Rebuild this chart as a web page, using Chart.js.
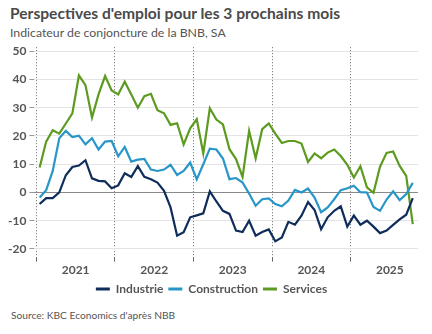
<!DOCTYPE html>
<html lang="fr">
<head>
  <meta charset="UTF-8">
  <title>Perspectives d'emploi</title>
  <script src="https://cdn.jsdelivr.net/npm/chart.js"></script>
  <style>
    body {
      margin: 0;
      width: 432px;
      height: 334px;
      background: #fff;
      font-family: Lato, 'Open Sans', sans-serif;
      color: #555;
      position: relative;
      overflow: hidden;
    }
    #title {
      position: absolute;
      left: 10px;
      top: 4px;
      font-size: 15.6px;
      font-weight: bold;
      color: #4a4a4a;
      white-space: nowrap;
    }
    #subtitle {
      position: absolute;
      left: 10px;
      top: 25px;
      font-size: 12.3px;
      color: #555;
      white-space: nowrap;
    }
    #wrap {
      position: absolute;
      left: 0;
      top: 37px;
      width: 432px;
      height: 268px;
    }
    #source {
      position: absolute;
      left: 11px;
      top: 309px;
      font-size: 10.2px;
      color: #555;
      white-space: nowrap;
    }
  </style>
</head>
<body>
  <div id="title">Perspectives d'emploi pour les 3 prochains mois</div>
  <div id="subtitle">Indicateur de conjoncture de la BNB, SA</div>
  <div id="wrap"><canvas id="chart" width="432" height="268"></canvas></div>
  <div id="source">Source: KBC Economics d'après NBB</div>

  <script>
    // monthly data, Jan 2021 .. Oct 2025 (index 0 = Jan 2021)
    const years = ['2021', '2022', '2023', '2024', '2025'];
    const yTicks = [-20, -10, 0, 10, 20, 30, 40, 50];

    const industrie = [-4.1, -2, -2, 0, 6.1, 9, 9.5, 11.4, 5, 4.1, 3.9, 1.5,
      2.5, 6.8, 5.5, 9.3, 5.5, 4.7, 3.5, 0.6, -5.3, -15.3, -14.1, -8.8,
      -8.1, -7.4, 0.4, -3.2, -6.5, -7.6, -13.5, -14, -10, -15.3, -14, -13.1,
      -17.3, -15.9, -10.4, -11.4, -8.2, -3.4, -6.2, -13, -8.8, -6.5, -4.9, -12.1,
      -8.2, -11.4, -10, -12.1, -14.4, -13.5, -11.5, -9.5, -7.9, -2];

    const construction = [-1.8, 0.8, 7.6, 19.2, 21.8, 19.6, 20.1, 17, 19.2, 15.2, 18, 18.2,
      12.8, 16.1, 10.9, 11.6, 11.9, 8.1, 7.6, 8.1, 9.8, 6.2, 7.6, 10.6,
      4.6, 10, 15.5, 15.2, 12, 4.7, 5.1, 3.5, -0.4, -4.7, -2.4, -2.1,
      -4.1, -4.9, -2.9, 0.9, 0, 1.4, -1.8, -7, -5.3, -2.4, 0.8, 1.5,
      2.4, 0.1, 0, -5.1, -6.5, -2.5, 0.4, -2.7, -0.6, 3.4];

    const services = [8.8, 18, 22, 20.8, 24.4, 28, 41.4, 38, 26.5, 34.7, 41.2, 36.1,
      34.7, 39.2, 34.7, 30, 34.1, 34.9, 29.1, 28, 23.9, 24.5, 17, 22.7,
      25.9, 13.8, 29.8, 25.8, 24.1, 15.3, 11.8, 5.5, 21.8, 12.1, 22.4, 24.4,
      20.8, 17.5, 18.2, 18.2, 17.3, 10.8, 13.8, 12.1, 14.1, 15.2, 12.9, 9.8,
      5.3, 9.3, 1.8, -0.1, 9.1, 14, 14.5, 9.4, 5.9, -11.2];

    // year boundaries (between Dec and Jan)
    const yearStarts = years.map((y, i) => i * 12 - 0.5);

    const toPoints = arr => arr.map((v, i) => ({ x: i, y: v }));

    function series(label, values, color) {
      return {
        label: label,
        data: toPoints(values),
        borderColor: color,
        backgroundColor: color,
        borderWidth: 2.2,
        pointRadius: 0,
        tension: 0
      };
    }

    const labelFont = { family: "Lato, 'Open Sans', sans-serif", size: 12, weight: 'bold' };

    new Chart(document.getElementById('chart'), {
      type: 'line',
      data: {
        datasets: [
          series('Industrie', industrie, '#0f2d5a'),
          series('Construction', construction, '#2896c8'),
          series('Services', services, '#5c9b1f')
        ]
      },
      options: {
        responsive: false,
        animation: false,
        layout: { padding: { left: 5, right: 14, top: 0, bottom: 0 } },
        plugins: {
          title: { display: false },
          tooltip: { enabled: false },
          legend: {
            position: 'bottom',
            labels: {
              font: labelFont,
              color: '#555',
              boxWidth: 14,
              boxHeight: 3,
              padding: 5,
              generateLabels: chart => {
                const items = Chart.defaults.plugins.legend.labels.generateLabels(chart);
                items.forEach(it => { it.lineWidth = 0; });
                return items;
              }
            }
          }
        },
        scales: {
          x: {
            type: 'linear',
            min: -0.8,
            max: 57.8,
            afterBuildTicks: s => { s.ticks = yearStarts.map(v => ({ value: v })); },
            border: { display: false, dash: [1, 2] },
            grid: {
              color: '#666',
              lineWidth: 1,
              tickColor: '#666',
              tickBorderDash: [],
              tickLength: 5
            },
            ticks: {
              callback: (v, i) => years[i],
              labelOffset: 39.3,
              autoSkip: false,
              maxRotation: 0,
              font: labelFont,
              color: '#555',
              padding: 1
            }
          },
          y: {
            min: -22.7,
            max: 51.4,
            afterBuildTicks: s => { s.ticks = yTicks.map(v => ({ value: v })); },
            border: { display: false },
            grid: {
              color: c => (c.tick && c.tick.value === 0) ? '#8a8a8a' : '#e4e4e4',
              tickColor: '#999',
              tickLength: 5
            },
            ticks: {
              font: labelFont,
              color: '#555',
              padding: 3
            }
          }
        }
      }
    });
  </script>
</body>
</html>
